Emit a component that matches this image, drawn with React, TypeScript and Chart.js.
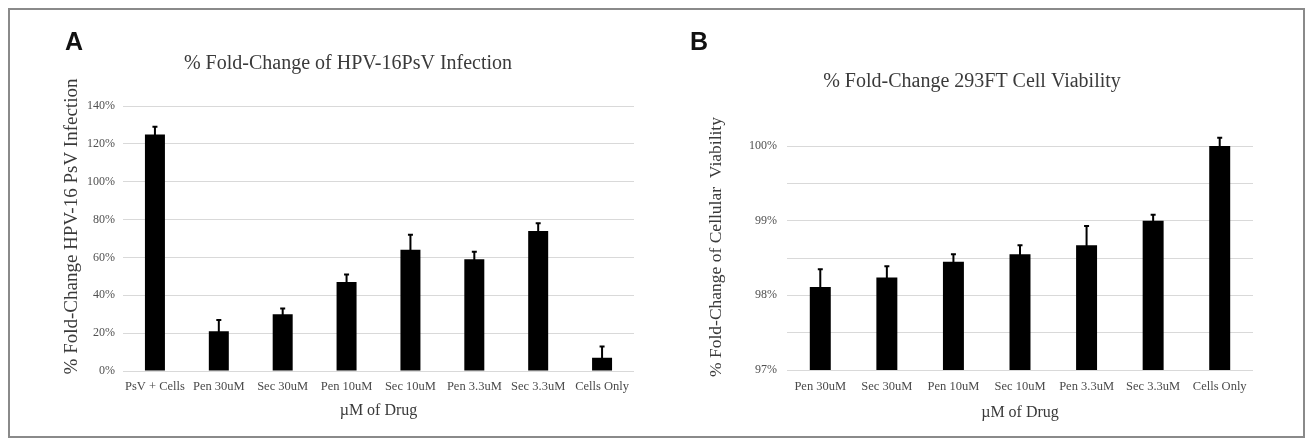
import React, { useEffect, useRef } from 'react';
import { Chart, registerables } from 'chart.js';

Chart.register(...registerables);

// ---------- Data ----------
const infectionCategories = ['PsV + Cells', 'Pen 30uM', 'Sec 30uM', 'Pen 10uM', 'Sec 10uM', 'Pen 3.3uM', 'Sec 3.3uM', 'Cells Only'];
const infectionValues = [125, 21, 30, 47, 64, 59, 74, 7];
const infectionErrors = [4, 6, 3, 4, 8, 4, 4, 6];
const infectionTicks = { min: 0, max: 140, step: 20 };

const viabilityCategories = ['Pen 30uM', 'Sec 30uM', 'Pen 10uM', 'Sec 10uM', 'Pen 3.3uM', 'Sec 3.3uM', 'Cells Only'];
const viabilityValues = [98.11, 98.24, 98.45, 98.55, 98.67, 99.0, 100.0];
const viabilityErrors = [0.24, 0.15, 0.1, 0.12, 0.26, 0.08, 0.11];
const viabilityTicks = { min: 97, max: 100, step: 0.5 };

const titleA = '% Fold-Change of HPV-16PsV Infection';
const yTitleA = '% Fold-Change HPV-16 PsV Infection';
const titleB = '% Fold-Change 293FT Cell Viability';
const yTitleB = '% Fold-Change of Cellular  Viability';
const xTitle = 'µM of Drug';

const SERIF = "'Liberation Serif', 'Times New Roman', serif";

type Panel = {
  labels: string[];
  values: number[];
  errors: number[];
  ticks: { min: number; max: number; step: number };
  integerLabelsOnly: boolean;
  title: string;
  yTitle: string;
  yTitleSize: number;
  yTitleOffsetX: number;
  yTitleShiftY: number;
  width: number;
  height: number;
  padLeft: number;
  padRight: number;
  titlePadTop: number;
  titlePadBottom: number;
  yAxisWidth: number;
  yTickPad: number;
  xAxisHeight: number;
  xTickPad: number;
  xTitlePadBottom: number;
  barPct: number;
};

function makeErrorPlugin(errors: number[]) {
  return {
    id: 'errorBars',
    afterDatasetsDraw(chart: any) {
      const meta = chart.getDatasetMeta(0);
      const yScale = chart.scales.y;
      const data = chart.data.datasets[0].data as number[];
      const ctx = chart.ctx;
      ctx.save();
      ctx.strokeStyle = '#000';
      ctx.lineWidth = 2;
      meta.data.forEach((bar: any, i: number) => {
        const v = data[i];
        const e = errors[i];
        const x = bar.x;
        const yTop = yScale.getPixelForValue(v + e);
        const yBase = yScale.getPixelForValue(v);
        ctx.beginPath();
        ctx.moveTo(x, yBase + 1);
        ctx.lineTo(x, yTop);
        ctx.moveTo(x - 2.5, yTop);
        ctx.lineTo(x + 2.5, yTop);
        ctx.stroke();
      });
      ctx.restore();
    },
  };
}

function makeYTitlePlugin(p: Panel) {
  return {
    id: 'yAxisTitle',
    afterDraw(chart: any) {
      const yScale = chart.scales.y;
      const area = chart.chartArea;
      const ctx = chart.ctx;
      ctx.save();
      ctx.translate(yScale.left + p.yTitleOffsetX, (area.top + area.bottom) / 2 + p.yTitleShiftY);
      ctx.rotate(-Math.PI / 2);
      ctx.font = `${p.yTitleSize}px ${SERIF}`;
      ctx.fillStyle = '#3a3a3a';
      ctx.textAlign = 'center';
      ctx.textBaseline = 'middle';
      ctx.fillText(p.yTitle, 0, 0);
      ctx.restore();
    },
  };
}

function buildConfig(p: Panel): any {
  return {
    type: 'bar',
    data: {
      labels: p.labels,
      datasets: [
        {
          data: p.values,
          backgroundColor: '#000000',
          borderWidth: 0,
          categoryPercentage: 1,
          barPercentage: p.barPct,
        },
      ],
    },
    plugins: [makeErrorPlugin(p.errors), makeYTitlePlugin(p)],
    options: {
      responsive: false,
      animation: false,
      layout: { padding: { left: p.padLeft, right: p.padRight, top: 0, bottom: 0 } },
      plugins: {
        legend: { display: false },
        tooltip: { enabled: false },
        title: {
          display: true,
          text: p.title,
          color: '#3a3a3a',
          font: { family: SERIF, size: 20, weight: 'normal', lineHeight: 1.2 },
          padding: { top: p.titlePadTop, bottom: p.titlePadBottom },
        },
      },
      scales: {
        x: {
          grid: { display: false, drawTicks: false },
          border: { display: false },
          ticks: {
            color: '#4a4a4a',
            font: { family: SERIF, size: 12.5, lineHeight: 1.2 },
            padding: p.xTickPad,
            autoSkip: false,
            maxRotation: 0,
            minRotation: 0,
          },
          title: {
            display: true,
            text: xTitle,
            color: '#3a3a3a',
            font: { family: SERIF, size: 16, lineHeight: 1.2 },
            padding: { top: 0, bottom: p.xTitlePadBottom },
          },
          afterFit: (scale: any) => {
            scale.height = p.xAxisHeight;
          },
        },
        y: {
          min: p.ticks.min,
          max: p.ticks.max,
          grid: { color: '#d9d9d9', lineWidth: 1, drawTicks: false },
          border: { display: false },
          ticks: {
            stepSize: p.ticks.step,
            color: '#505050',
            font: { family: SERIF, size: 12, lineHeight: 1.2 },
            padding: p.yTickPad,
            callback: (v: number) => {
              if (p.integerLabelsOnly && Math.abs(v - Math.round(v)) > 1e-6) return '';
              return `${Math.round(v)}%`;
            },
          },
          title: { display: false },
          afterFit: (scale: any) => {
            scale.width = p.yAxisWidth;
          },
        },
      },
    },
  };
}

const panelA: Panel = {
  labels: infectionCategories,
  values: infectionValues,
  errors: infectionErrors,
  ticks: infectionTicks,
  integerLabelsOnly: false,
  title: titleA,
  yTitle: yTitleA,
  yTitleSize: 19,
  yTitleOffsetX: 10,
  yTitleShiftY: -12,
  width: 640,
  height: 425,
  padLeft: 52,
  padRight: 16,
  titlePadTop: 42,
  titlePadBottom: 30,
  yAxisWidth: 61,
  yTickPad: 8,
  xAxisHeight: 64,
  xTickPad: 8.5,
  xTitlePadBottom: 15,
  barPct: 0.313,
};

const panelB: Panel = {
  labels: viabilityCategories,
  values: viabilityValues,
  errors: viabilityErrors,
  ticks: viabilityTicks,
  integerLabelsOnly: true,
  title: titleB,
  yTitle: yTitleB,
  yTitleSize: 17.5,
  yTitleOffsetX: 25,
  yTitleShiftY: -11,
  width: 653,
  height: 425,
  padLeft: 41,
  padRight: 50,
  titlePadTop: 60,
  titlePadBottom: 52,
  yAxisWidth: 96,
  yTickPad: 10,
  xAxisHeight: 65,
  xTickPad: 9.5,
  xTitlePadBottom: 13,
  barPct: 0.315,
};

function BarPanel({ panel, left }: { panel: Panel; left: number }) {
  const ref = useRef<HTMLCanvasElement | null>(null);
  useEffect(() => {
    if (!ref.current) return;
    const chart = new Chart(ref.current, buildConfig(panel));
    return () => chart.destroy();
  }, [panel]);
  return (
    <canvas
      ref={ref}
      width={panel.width}
      height={panel.height}
      style={{ position: 'absolute', left, top: 0, width: panel.width, height: panel.height, display: 'block' }}
    />
  );
}

const letterStyle: React.CSSProperties = {
  position: 'absolute',
  top: 19,
  fontFamily: "'Liberation Sans', Arial, sans-serif",
  fontWeight: 'bold',
  fontSize: 25,
  lineHeight: 1,
  color: '#111',
};

export default function App() {
  return (
    <div
      style={{
        position: 'relative',
        width: 1297,
        height: 430,
        boxSizing: 'border-box',
        border: '2px solid #8a8a8a',
        background: '#fff',
      }}
    >
      <BarPanel panel={panelA} left={0} />
      <BarPanel panel={panelB} left={640} />
      <div style={{ ...letterStyle, left: 55 }}>A</div>
      <div style={{ ...letterStyle, left: 680 }}>B</div>
    </div>
  );
}
